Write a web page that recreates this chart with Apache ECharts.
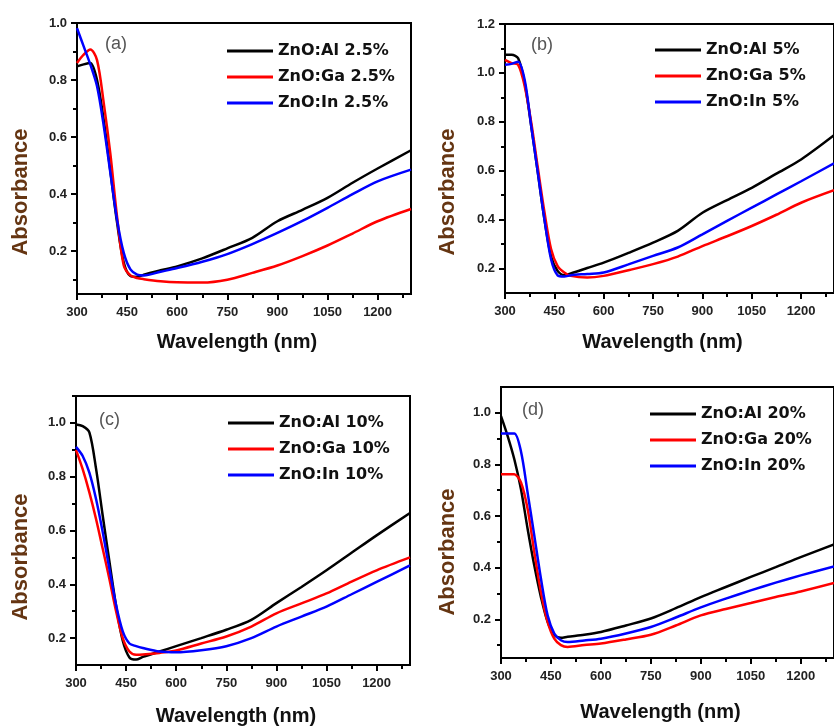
<!DOCTYPE html>
<html>
<head>
    <meta charset="utf-8"/>
    <title>ZnO absorbance</title>
    <style>
        html, body { margin: 0; padding: 0; background: #fff; overflow: hidden; }
    </style>
</head>
<body>
<div id="main" style="width:834px;height:727px"></div>
<script src="https://cdn.jsdelivr.net/npm/echarts@6/dist/echarts.min.js"></script>
<script type="text/javascript">
    // wavelength points (nm) used for every curve
    var wavelength = [300, 320, 340, 360, 380, 400, 420, 440, 460, 480, 500, 550, 600, 675, 750, 825, 900, 975, 1050, 1125, 1200, 1300];

    // (a) 2.5%
    var al25 = [0.848, 0.855, 0.860, 0.800, 0.660, 0.480, 0.300, 0.160, 0.113, 0.110, 0.118, 0.133, 0.147, 0.175, 0.210, 0.247, 0.305, 0.345, 0.387, 0.440, 0.490, 0.554];
    var ga25 = [0.860, 0.889, 0.907, 0.870, 0.720, 0.540, 0.320, 0.150, 0.115, 0.106, 0.102, 0.095, 0.091, 0.090, 0.100, 0.124, 0.150, 0.183, 0.220, 0.262, 0.305, 0.348];
    var in25 = [0.982, 0.918, 0.854, 0.778, 0.640, 0.474, 0.310, 0.194, 0.136, 0.118, 0.115, 0.128, 0.141, 0.163, 0.190, 0.225, 0.264, 0.306, 0.352, 0.400, 0.445, 0.486];

    // (b) 5%
    var al5 = [1.074, 1.074, 1.060, 0.958, 0.780, 0.590, 0.400, 0.250, 0.190, 0.173, 0.180, 0.202, 0.224, 0.264, 0.306, 0.354, 0.428, 0.480, 0.530, 0.588, 0.646, 0.745];
    var ga5 = [1.053, 1.040, 1.033, 0.945, 0.795, 0.610, 0.430, 0.280, 0.210, 0.184, 0.170, 0.163, 0.170, 0.193, 0.218, 0.249, 0.292, 0.332, 0.374, 0.420, 0.469, 0.520];
    var in5 = [1.033, 1.037, 1.046, 0.970, 0.780, 0.590, 0.400, 0.238, 0.172, 0.167, 0.173, 0.178, 0.184, 0.217, 0.252, 0.286, 0.340, 0.395, 0.449, 0.503, 0.557, 0.630];

    // (c) 10%
    var al10 = [0.994, 0.988, 0.965, 0.830, 0.655, 0.485, 0.320, 0.190, 0.128, 0.120, 0.130, 0.150, 0.170, 0.200, 0.231, 0.268, 0.330, 0.390, 0.452, 0.517, 0.582, 0.665];
    var ga10 = [0.900, 0.828, 0.742, 0.643, 0.532, 0.420, 0.300, 0.200, 0.150, 0.138, 0.139, 0.145, 0.154, 0.180, 0.206, 0.243, 0.292, 0.329, 0.366, 0.410, 0.452, 0.500];
    var in10 = [0.911, 0.877, 0.815, 0.717, 0.594, 0.458, 0.323, 0.225, 0.180, 0.170, 0.163, 0.150, 0.147, 0.155, 0.170, 0.200, 0.243, 0.280, 0.317, 0.363, 0.409, 0.470];

    // (d) 20%
    var al20 = [0.987, 0.910, 0.820, 0.704, 0.550, 0.408, 0.286, 0.190, 0.140, 0.128, 0.132, 0.140, 0.151, 0.176, 0.203, 0.243, 0.286, 0.325, 0.364, 0.402, 0.441, 0.490];
    var ga20 = [0.762, 0.762, 0.762, 0.730, 0.627, 0.460, 0.305, 0.190, 0.125, 0.100, 0.093, 0.100, 0.106, 0.122, 0.140, 0.176, 0.215, 0.240, 0.263, 0.286, 0.308, 0.341];
    var in20 = [0.920, 0.920, 0.920, 0.850, 0.690, 0.524, 0.357, 0.215, 0.145, 0.119, 0.112, 0.118, 0.125, 0.145, 0.170, 0.207, 0.246, 0.280, 0.312, 0.342, 0.370, 0.405];

    var xMajor = [300, 450, 600, 750, 900, 1050, 1200];
    var xMinor = [375, 525, 675, 825, 975, 1125, 1275];

    var panels = [
        {label: '(a)', names: ['ZnO:Al 2.5%', 'ZnO:Ga 2.5%', 'ZnO:In 2.5%'], values: [al25, ga25, in25],
            yMin: 0.05, yMax: 1.0, yMajor: [0.2, 0.4, 0.6, 0.8, 1.0], yMinor: [0.1, 0.3, 0.5, 0.7, 0.9],
            grid: {left: 77, top: 23, width: 334, height: 271}, legend: {left: 227, top: 43}, title: {left: 105, top: 35},
            yName: [21, 192], xNameGap: 38},
        {label: '(b)', names: ['ZnO:Al 5%', 'ZnO:Ga 5%', 'ZnO:In 5%'], values: [al5, ga5, in5],
            yMin: 0.1, yMax: 1.2, yMajor: [0.2, 0.4, 0.6, 0.8, 1.0, 1.2], yMinor: [0.3, 0.5, 0.7, 0.9, 1.1],
            grid: {left: 505, top: 24, width: 337, height: 269}, legend: {left: 655, top: 42}, title: {left: 531, top: 36},
            yName: [448, 192], xNameGap: 39},
        {label: '(c)', names: ['ZnO:Al 10%', 'ZnO:Ga 10%', 'ZnO:In 10%'], values: [al10, ga10, in10],
            yMin: 0.1, yMax: 1.1, yMajor: [0.2, 0.4, 0.6, 0.8, 1.0], yMinor: [0.3, 0.5, 0.7, 0.9, 1.1],
            grid: {left: 76, top: 396, width: 334, height: 270}, legend: {left: 228, top: 415}, title: {left: 99, top: 411},
            yName: [21, 557], xNameGap: 41},
        {label: '(d)', names: ['ZnO:Al 20%', 'ZnO:Ga 20%', 'ZnO:In 20%'], values: [al20, ga20, in20],
            yMin: 0.05, yMax: 1.1, yMajor: [0.2, 0.4, 0.6, 0.8, 1.0], yMinor: [0.1, 0.3, 0.5, 0.7, 0.9],
            grid: {left: 501, top: 387, width: 336, height: 271}, legend: {left: 650, top: 406}, title: {left: 522, top: 401},
            yName: [448, 552], xNameGap: 44}
    ];

    var lineColors = ['#000000', '#ff0000', '#0000ff'];
    var tickFont = {fontFamily: 'Liberation Sans', fontWeight: 'bold', fontSize: 13, color: '#222'};

    var option = {
        animation: false,
        backgroundColor: '#fff',
        title: [], legend: [], grid: [], xAxis: [], yAxis: [], series: [], graphic: []
    };

    panels.forEach(function (p, i) {
        option.grid.push({
            left: p.grid.left, top: p.grid.top, width: p.grid.width, height: p.grid.height,
            show: true, borderColor: '#000', borderWidth: 2, backgroundColor: 'transparent'
        });
        option.title.push({
            text: p.label, left: p.title.left, top: p.title.top, padding: 0,
            textStyle: {fontFamily: 'Liberation Sans', fontWeight: 'normal', fontSize: 18, color: '#555'}
        });
        option.legend.push({
            data: p.names, orient: 'vertical', left: p.legend.left, top: p.legend.top,
            icon: 'rect', itemWidth: 46, itemHeight: 3, itemGap: 10, padding: 0,
            textStyle: {fontFamily: 'DejaVu Sans', fontWeight: 'bold', fontSize: 16, color: '#111'}
        });
        // main x axis
        option.xAxis.push({
            type: 'value', gridIndex: i, position: 'bottom', min: 300, max: 1300,
            name: 'Wavelength (nm)', nameLocation: 'middle', nameGap: p.xNameGap,
            nameTextStyle: {fontFamily: 'Liberation Sans', fontWeight: 'bold', fontSize: 20, color: '#111', padding: [0, 14, 0, 0]},
            axisLine: {lineStyle: {color: '#000', width: 2}},
            axisTick: {customValues: xMajor, length: 6, lineStyle: {color: '#000', width: 2}},
            axisLabel: Object.assign({
                customValues: xMajor, margin: 12,
                formatter: function (v) { return String(v); }
            }, tickFont),
            splitLine: {show: false}
        });
        // minor x ticks
        option.xAxis.push({
            type: 'value', gridIndex: i, position: 'bottom', min: 300, max: 1300,
            axisLine: {show: false},
            axisTick: {customValues: xMinor, length: 4, lineStyle: {color: '#000', width: 2}},
            axisLabel: {show: false},
            splitLine: {show: false}
        });
        option.yAxis.push({
            type: 'value', gridIndex: i, position: 'left', min: p.yMin, max: p.yMax,
            axisLine: {lineStyle: {color: '#000', width: 2}},
            axisTick: {customValues: p.yMajor, length: 6, lineStyle: {color: '#000', width: 2}},
            axisLabel: Object.assign({
                customValues: p.yMajor, margin: 10,
                formatter: function (v) { return v.toFixed(1); }
            }, tickFont),
            splitLine: {show: false}
        });
        option.yAxis.push({
            type: 'value', gridIndex: i, position: 'left', min: p.yMin, max: p.yMax,
            axisLine: {show: false},
            axisTick: {customValues: p.yMinor, length: 4, lineStyle: {color: '#000', width: 2}},
            axisLabel: {show: false},
            splitLine: {show: false}
        });
        p.names.forEach(function (name, k) {
            option.series.push({
                name: name, type: 'line',
                xAxisIndex: 2 * i, yAxisIndex: 2 * i,
                data: wavelength.map(function (w, j) { return [w, p.values[k][j]]; }),
                smooth: 0.3, showSymbol: false, symbol: 'none',
                color: lineColors[k],
                lineStyle: {color: lineColors[k], width: 2.5}
            });
        });
        option.graphic.push({
            type: 'text', x: p.yName[0], y: p.yName[1], rotation: Math.PI / 2,
            style: {
                text: 'Absorbance', textAlign: 'center', textVerticalAlign: 'middle',
                font: 'bold 22px "Liberation Sans"', fill: '#653512'
            }
        });
    });

    var chart = echarts.init(document.getElementById('main'));
    chart.setOption(option);
</script>
</body>
</html>
